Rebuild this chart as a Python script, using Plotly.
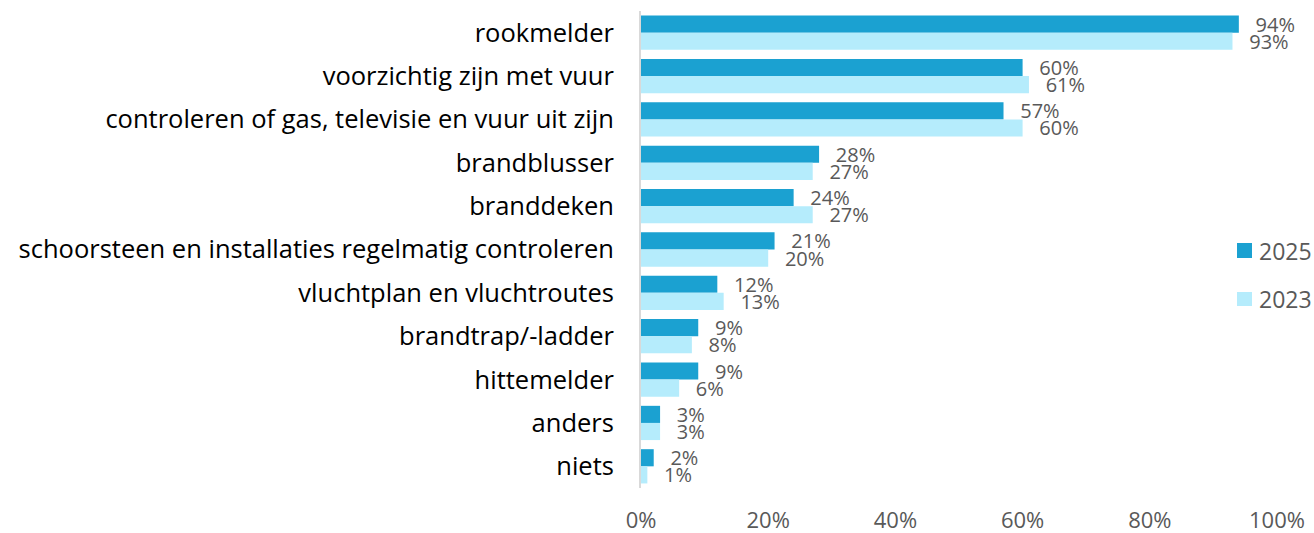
import plotly.graph_objects as go

categories = [
    "rookmelder",
    "voorzichtig zijn met vuur",
    "controleren of gas, televisie en vuur uit zijn",
    "brandblusser",
    "branddeken",
    "schoorsteen en installaties regelmatig controleren",
    "vluchtplan en vluchtroutes",
    "brandtrap/-ladder",
    "hittemelder",
    "anders",
    "niets",
]
values_2025 = [94, 60, 57, 28, 24, 21, 12, 9, 9, 3, 2]
values_2023 = [93, 61, 60, 27, 27, 20, 13, 8, 6, 3, 1]
x_ticks = [0, 20, 40, 60, 80, 100]

FONT = "'Open Sans', 'Noto Sans', sans-serif"
LABEL_GREY = "#595959"
PAD = "\u00a0\u00a0\u2009"  # small gap between bar end and its value label

series = [
    ("2025", values_2025, "#1BA1D1"),
    ("2023", values_2023, "#B5ECFC"),
]

fig = go.Figure()
for name, vals, color in series:
    fig.add_trace(go.Bar(
        name=name,
        y=categories,
        x=vals,
        orientation="h",
        marker=dict(color=color, line=dict(width=0)),
        text=[f"{PAD}{v}%" for v in vals],
        textposition="outside",
        textfont=dict(family=FONT, size=20, color=LABEL_GREY),
        constraintext="none",
        cliponaxis=False,
        hoverinfo="skip",
        showlegend=False,
    ))

# Key on the right-hand side: a coloured square plus the series name,
# placed in paper coordinates so it does not squeeze the plot area.
key_rows = [(0.4822, 0.5136), (0.3816, 0.4109)]
for (name, _, color), (y0, y1) in zip(series, key_rows):
    fig.add_shape(
        type="rect", xref="paper", yref="paper",
        x0=0.9371, x1=0.9607, y0=y0, y1=y1,
        fillcolor=color, line=dict(width=0),
    )
    fig.add_annotation(
        xref="paper", yref="paper",
        x=0.969, y=(y0 + y1) / 2,
        xanchor="left", yanchor="middle",
        text=name, showarrow=False,
        font=dict(family=FONT, size=23, color=LABEL_GREY),
    )

fig.update_layout(
    width=1314,
    height=533,
    margin=dict(l=641, r=37, t=11, b=45),
    paper_bgcolor="white",
    plot_bgcolor="white",
    barmode="group",
    bargap=0.21,
    bargroupgap=0,
    font=dict(family=FONT, color="black"),
    showlegend=False,
    xaxis=dict(
        range=[0, 100],
        tickvals=x_ticks,
        ticktext=[f"{t}%" for t in x_ticks],
        tickfont=dict(family=FONT, size=22, color=LABEL_GREY),
        showgrid=False,
        zeroline=False,
        showline=False,
        ticks="",
        ticklabelstandoff=17,
        automargin=False,
    ),
    yaxis=dict(
        autorange="reversed",
        tickfont=dict(family=FONT, size=25.5, color="black"),
        showgrid=False,
        showline=True,
        linecolor="#D9D9D9",
        linewidth=2,
        ticks="",
        ticklabelstandoff=20,
        automargin=False,
    ),
)

fig.write_html("out.html")
